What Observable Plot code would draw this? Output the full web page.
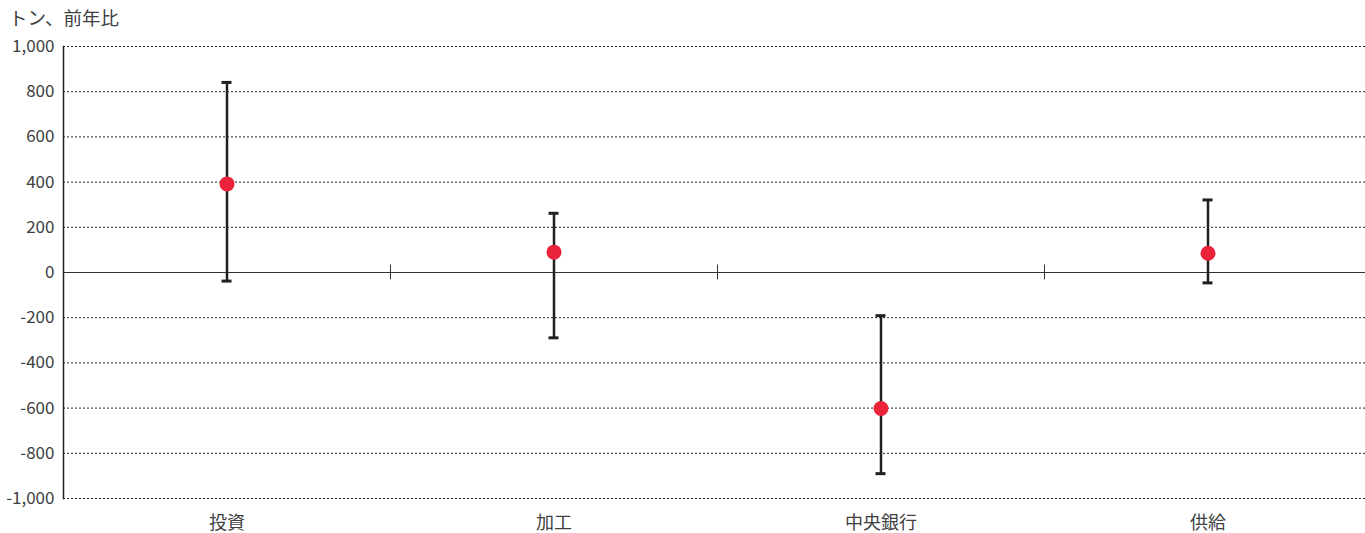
<!DOCTYPE html>
<html>
<head>
<meta charset="utf-8">
<script src="https://cdn.jsdelivr.net/npm/d3@7"></script>
<script src="https://cdn.jsdelivr.net/npm/@observablehq/plot@0.6"></script>
<style>
  html, body { margin: 0; padding: 0; background: #fff; overflow: hidden; }
  #wrap { position: relative; width: 1365px; height: 533px; }
  #unit { position: absolute; left: 9px; top: 6px; font: 18.5px "Noto Sans CJK JP", "Noto Sans", sans-serif; color: #404040; line-height: 1.2; }
</style>
</head>
<body>
<div id="wrap"><div id="unit">トン、前年比</div></div>
<script>
const categories = ["投資", "加工", "中央銀行", "供給"];
const central = [392, 90, -602, 85];
const low = [-38, -289, -890, -46];
const high = [841, 262, -191, 321];
const yTicks = [-1000, -800, -600, -400, -200, 0, 200, 400, 600, 800, 1000];

const data = categories.map((c, i) => ({cat: c, v: central[i], lo: low[i], hi: high[i]}));
const fmt = d3.formatLocale({decimal: ".", thousands: ",", grouping: [3], currency: ["", ""], minus: "-"}).format(",");

const bw = (1371 - 63) / categories.length;
const capW = 10;

const chart = Plot.plot({
  width: 1365,
  height: 533,
  marginLeft: 63,
  marginRight: 0,
  marginTop: 46,
  marginBottom: 35,
  style: {fontSize: "17px", fontFamily: "'Noto Sans CJK JP', 'Noto Sans', sans-serif", color: "#404040", background: "#fff"},
  x: {domain: categories, range: [63, 1371], padding: 0, label: null},
  y: {domain: [-1000, 1000], label: null},
  marks: [
    Plot.ruleY(yTicks.filter(d => d !== 0), {stroke: "#222", strokeWidth: 1, strokeDasharray: "2,2", strokeOpacity: 1}),
    Plot.ruleY([0], {stroke: "#333", strokeWidth: 1.2}),
    Plot.ruleX(categories.slice(1), {x: d => d, dx: -bw / 2, y1: -33, y2: 33, stroke: "#333", strokeWidth: 1}),
    Plot.frame({anchor: "left", stroke: "#222", strokeWidth: 1.5}),
    Plot.axisY({ticks: yTicks, tickSize: 0, tickPadding: 9, tickFormat: fmt, label: null}),
    Plot.axisX({tickSize: 0, tickPadding: 18, fontSize: 18, label: null}),
    Plot.ruleX(data, {x: "cat", y1: "lo", y2: "hi", stroke: "#231f20", strokeWidth: 2.5}),
    Plot.tickY(data, {x: "cat", y: "lo", stroke: "#231f20", strokeWidth: 3, insetLeft: (bw - capW) / 2, insetRight: (bw - capW) / 2}),
    Plot.tickY(data, {x: "cat", y: "hi", stroke: "#231f20", strokeWidth: 3, insetLeft: (bw - capW) / 2, insetRight: (bw - capW) / 2}),
    Plot.dot(data, {x: "cat", y: "v", r: 7.5, fill: "#ea233a", stroke: "none"})
  ]
});
document.getElementById("wrap").appendChild(chart);
</script>
</body>
</html>
